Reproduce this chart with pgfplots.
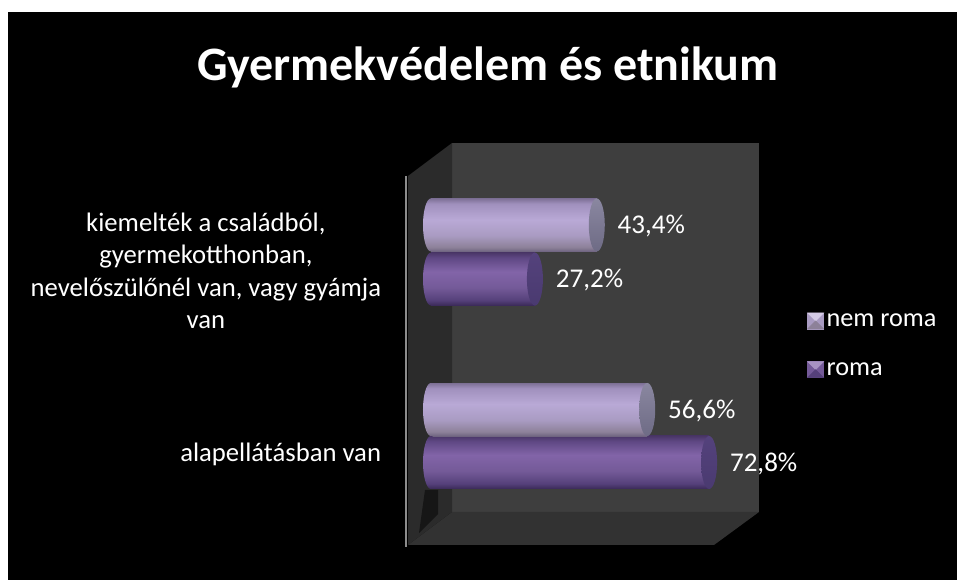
\documentclass[border=0pt]{standalone}
\usepackage{fontspec}
\setmainfont{Carlito}
\usepackage{pgfplots}
\usepackage{pgfplotstable}
\pgfplotsset{compat=1.18}
\definecolor{lc0}{HTML}{6F6480}\definecolor{lc1}{HTML}{8D8199}\definecolor{lc2}{HTML}{A99BC2}
\definecolor{lc3}{HTML}{B9A9D6}\definecolor{lc4}{HTML}{A090BD}\definecolor{lc5}{HTML}{7D7095}
\definecolor{dc0}{HTML}{3A2957}\definecolor{dc1}{HTML}{55407A}\definecolor{dc2}{HTML}{745A98}
\definecolor{dc3}{HTML}{8264A8}\definecolor{dc4}{HTML}{5F4884}\definecolor{dc5}{HTML}{4A3668}
\definecolor{lcapA}{HTML}{6E6B85}\definecolor{lcapB}{HTML}{8A87A0}
\definecolor{dcapA}{HTML}{4A3A70}\definecolor{dcapB}{HTML}{54427C}
\pgfdeclareverticalshading{lightbar}{100bp}{color(0bp)=(lc0);color(25bp)=(lc0);color(29bp)=(lc1);color(40bp)=(lc2);color(55bp)=(lc3);color(70bp)=(lc4);color(75bp)=(lc5);color(100bp)=(lc5)}
\pgfdeclareverticalshading{darkbar}{100bp}{color(0bp)=(dc0);color(25bp)=(dc0);color(30bp)=(dc1);color(42bp)=(dc2);color(57bp)=(dc3);color(70bp)=(dc4);color(75bp)=(dc5);color(100bp)=(dc5)}
\pgfdeclareverticalshading{lightcap}{100bp}{color(0bp)=(lcapA);color(25bp)=(lcapA);color(75bp)=(lcapB);color(100bp)=(lcapB)}
\pgfdeclareverticalshading{darkcap}{100bp}{color(0bp)=(dcapA);color(25bp)=(dcapA);color(75bp)=(dcapB);color(100bp)=(dcapB)}
\newcommand{\capmark}[2]{\pgfdeclareplotmark{#1}{%
  \pgfpathellipse{\pgfpointorigin}{\pgfqpoint{6pt}{0pt}}{\pgfqpoint{0pt}{19.9pt}}%
  \pgfshadepath{#2}{0}\pgfusepath{discard}}}
\capmark{lightcapm}{lightcap}\capmark{darkcapm}{darkcap}
\capmark{lightendm}{lightbar}\capmark{darkendm}{darkbar}
\pgfplotstableread{
v y
27.2 0.853
72.8 -0.144
}\romaT
\pgfplotstableread{
v y
43.4 1.147
56.6 0.144
}\nemT
\pgfplotstableread{
v y
0 0.853
0 -0.144
}\romaL
\pgfplotstableread{
v y
0 1.147
0 0.144
}\nemL
\pgfplotsset{barlabel/.style={nodes near coords={\pgfmathprintnumber{\pgfplotspointmeta}\%},
  point meta=x,
  nodes near coords style={text=white,font=\fontsize{20.3}{24}\selectfont,anchor=west,inner sep=0pt,xshift=15.5pt,yshift=-1pt,
    /pgf/number format/.cd,fixed,fixed zerofill,precision=1,use comma,assume math mode=true}},
  onebar/.style={forget plot,xbar,bar width=39.75pt,bar shift=0pt,draw=none,shade,shading=#1,barlabel}}
\begin{document}
\begin{tikzpicture}
\begin{scope}[x=0.75pt,y=-0.75pt]
\fill[white] (0,0) rectangle (957,580);
\fill[black] (8,12) rectangle (957,580);
\fill[color={rgb,255:red,62;green,62;blue,62}] (452,143) rectangle (759,512);
\fill[color={rgb,255:red,43;green,43;blue,43}] (408,176) -- (452,143) -- (452,512) -- (408,545) -- cycle;
\fill[color={rgb,255:red,50;green,50;blue,50}] (408,545) -- (452,512) -- (759,512) -- (714,545) -- cycle;
\fill[color={rgb,255:red,22;green,22;blue,22}] (419,533) -- (438,514) -- (438,490) -- (425,490) -- cycle;
\draw[color={rgb,255:red,140;green,140;blue,140},line width=2.2pt] (406,176) -- (406,547);
\end{scope}
\begin{axis}[
  at={(306pt,-408.75pt)},anchor=south west,
  scale only axis,width=263.25pt,height=301.5pt,
  xmin=-6.02,xmax=85.86,ymin=-0.5924,ymax=1.5924,
  clip=false,
  axis line style={draw=none},
  xtick=\empty,
  ytick={0,1},
  yticklabels={{alapellátásban van},{kiemelték a családból,\\gyermekotthonban,\\nevelőszülőnél van, vagy gyámja\\van}},
  major tick length=0pt,
  yticklabel style={text=white,align=center,anchor=east,inner sep=0pt,
    font=\fontsize{20}{24.4}\selectfont,xshift=-20pt,yshift=-14pt},
  title={\fontsize{36}{40}\selectfont\bfseries Gyermekvédelem és etnikum},
  title style={text=white,at={(axis description cs:0.228,1.169)},anchor=center,inner sep=0pt},
  legend style={draw=none,fill=none,text=white,at={(axis description cs:1.137,0.583)},anchor=north west,
    inner sep=0pt,row sep=21.5pt,font=\fontsize{19.7}{24}\selectfont,
    /tikz/every even column/.append style={column sep=9.5pt}},
  legend cell align=left,
]
\addlegendimage{legend image code/.code={
  \fill[color=lc2] (0,-6pt) rectangle (12pt,6pt);
  \fill[color=lc3!60!white] (0,6pt) -- (12pt,6pt) -- (6pt,0) -- cycle;
  \fill[color=lc1] (0,-6pt) -- (12pt,-6pt) -- (6pt,0) -- cycle;}}
\addlegendimage{legend image code/.code={
  \fill[color=dc2] (0,-6pt) rectangle (12pt,6pt);
  \fill[color=dc3!70!white] (0,6pt) -- (12pt,6pt) -- (6pt,0) -- cycle;
  \fill[color=dc1] (0,-6pt) -- (12pt,-6pt) -- (6pt,0) -- cycle;}}
\addlegendentry{nem roma}
\addlegendentry{roma}
% roma
\addplot[forget plot,only marks,mark=darkendm] table[x=v,y=y] {\romaL};
\addplot[onebar=darkbar] coordinates {(27.2,0.853)};
\addplot[onebar=darkbar] coordinates {(72.8,-0.144)};
\addplot[forget plot,only marks,mark=darkcapm] table[x=v,y=y] {\romaT};
% nem roma
\addplot[forget plot,only marks,mark=lightendm] table[x=v,y=y] {\nemL};
\addplot[onebar=lightbar] coordinates {(43.4,1.147)};
\addplot[onebar=lightbar] coordinates {(56.6,0.144)};
\addplot[forget plot,only marks,mark=lightcapm] table[x=v,y=y] {\nemT};
\end{axis}
\end{tikzpicture}
\end{document}
